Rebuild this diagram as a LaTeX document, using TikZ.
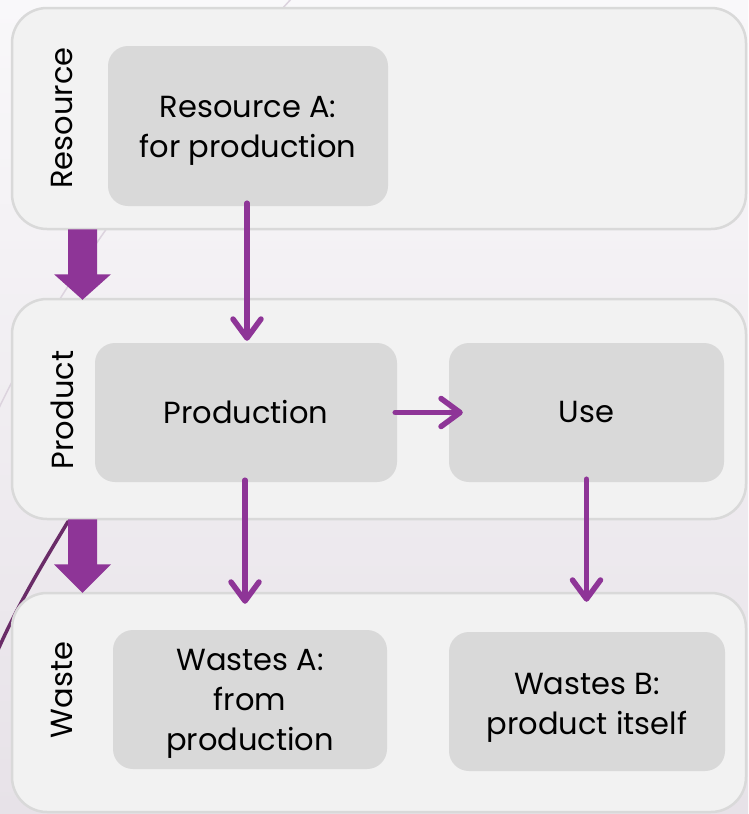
\documentclass[tikz,border=0pt]{standalone}
\usepackage{fontspec}
\setmainfont{Poppins}
\usetikzlibrary{arrows.meta,calc}
\definecolor{purp}{HTML}{8E3597}
\definecolor{darkpurp}{HTML}{6A2C68}
\definecolor{faint}{HTML}{DCD3DE}
\definecolor{lanefill}{HTML}{F2F2F2}
\definecolor{laneedge}{HTML}{D9D9D9}
\definecolor{boxfill}{HTML}{D9D9D9}
\definecolor{bgtop}{HTML}{F9F8FA}
\definecolor{bgbot}{HTML}{E7E2E8}
\begin{document}
\begin{tikzpicture}[x=1pt,y=-1pt,
  lane/.style={draw=laneedge,line width=2.5pt,fill=lanefill,rounded corners=35pt,minimum width=734pt,inner sep=0pt},
  box/.style={fill=boxfill,rounded corners=20pt,inner sep=0pt,align=center,font=\fontsize{30.5}{40}\selectfont},
  boxtext/.style={align=center,font=\fontsize{30.5}{40}\selectfont,inner sep=0pt,yshift=-5pt},
  lanelabel/.style={rotate=90,font=\fontsize{30.5}{34}\selectfont,inner sep=0pt},
  arr/.style={draw=purp,line width=5.5pt,line cap=round,-{Straight Barb[length=19pt,width=28pt,line cap=round,line join=round]}},
  blockarrow/.style={fill=purp}
]
\useasboundingbox (0,0) rectangle (748,814);
\shade[top color=bgtop,bottom color=bgbot] (0,0) rectangle (748,814);
% background decorative lines
\draw[faint,line width=1.5pt] (292,-2) .. controls (180,120) and (60,280) .. (-2,410);
\draw[darkpurp,line width=3.5pt] (78,505) .. controls (45,560) and (20,600) .. (-3,652);
% lanes
\node[lane,minimum height=221pt] (lane1) at (379,118.5) {};
\node[lane,minimum height=220pt] (lane2) at (379,409) {};
\node[lane,minimum height=219pt] (lane3) at (379,702.5) {};
% lane labels
\node[lanelabel] (l1) at (62,118) {Resource};
\node[lanelabel] (l2) at (62,410) {Product};
\node[lanelabel] (l3) at (62,690) {Waste};
% boxes
\node[box,minimum width=280pt,minimum height=160pt,label={[boxtext]center:{Resource A:\\for production}}] (resA) at (248,126) {};
\node[box,minimum width=302pt,minimum height=139pt] (prod) at (246,412.5) {Production};
\node[box,minimum width=275pt,minimum height=139pt] (use) at (586.5,412.5) {Use};
\node[box,minimum width=274pt,minimum height=139pt,label={[boxtext,yshift=1pt]center:{Wastes A:\\from\\production}}] (wA) at (250,699.5) {};
\node[box,minimum width=276pt,minimum height=139pt,label={[boxtext,yshift=-1pt]center:{Wastes B:\\product itself}}] (wB) at (587,701.5) {};
% block arrows between lanes
\coordinate (b1) at (lane1.south west -| 82.5,0);
\coordinate (b2) at (lane2.south west -| 82.5,0);
\fill[blockarrow] ($(b1)+(-14.5,-1)$) -- ++(29,0) -- ++(0,45) -- ++(14,0) -- ($(b1 |- lane2.north)+(0,2)$) -- ($(b1)+(-28.5,44)$) -- ++(14,0) -- cycle;
\fill[blockarrow] ($(b2)+(-14.5,-1)$) -- ++(29,0) -- ++(0,45) -- ++(14,0) -- ($(b2 |- lane3.north)+(0,1)$) -- ($(b2)+(-28.5,44)$) -- ++(14,0) -- cycle;
% flow arrows
\coordinate (a1s) at ($(resA.south)+(-1,-3)$);
\draw[arr] (a1s) -- ($(a1s |- prod.north)+(0,-2)$);
\coordinate (a2s) at ($(prod.south)+(-1,-2)$);
\draw[arr] (a2s) -- ($(a2s |- lane3.north)+(0,12)$);
\coordinate (a3s) at ($(prod.east)+(-2,0)$);
\draw[arr] (a3s) -- ($(use.west)+(14,0)$);
\coordinate (a4s) at ($(use.south)+(0,-3)$);
\draw[arr] (a4s) -- ($(a4s |- lane3.north)+(0,10)$);
\end{tikzpicture}
\end{document}
